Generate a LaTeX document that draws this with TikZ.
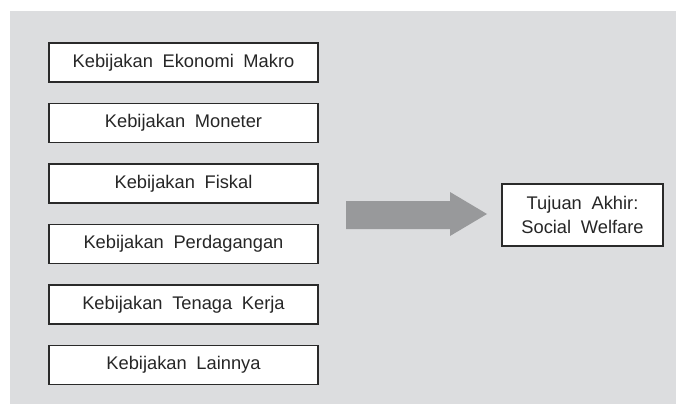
\documentclass[tikz,border=0pt]{standalone}
\usepackage{fontspec}
\setmainfont{Liberation Sans}[WordSpace=1.9]
\usetikzlibrary{positioning}
\definecolor{panelgray}{HTML}{DCDDDF}
\definecolor{arrowgray}{HTML}{98999B}
\definecolor{boxline}{HTML}{2A2A2A}

\begin{document}
\begin{tikzpicture}[x=1pt, y=-1pt,
  every node/.style={font=\fontsize{18.3}{23.5}\selectfont, text=black!85},
  policy/.style={draw=boxline, line width=1.6pt, fill=white, minimum width=269pt, minimum height=39pt, inner sep=0pt},
  goal/.style={draw=boxline, line width=1.6pt, fill=white, minimum width=161pt, minimum height=62pt, align=center, inner sep=0pt}]
  % Background
  \useasboundingbox (0,0) rectangle (676,404);
  \fill[white] (0,0) rectangle (676,404);
  \fill[panelgray] (10,11) rectangle (676,404);

  % Policy boxes
  \node[policy] (makro) at (183.5,62.5) {Kebijakan Ekonomi Makro};
  \node[policy] (moneter) at (183.5,123) {Kebijakan Moneter};
  \node[policy] (fiskal) at (183.5,183.5) {Kebijakan Fiskal};
  \node[policy] (dagang) at (183.5,244) {Kebijakan Perdagangan};
  \node[policy] (kerja) at (183.5,304.5) {Kebijakan Tenaga Kerja};
  \node[policy] (lain) at (183.5,365) {Kebijakan Lainnya};

  % Final goal
  \node[goal] (tujuan) at (582.5,215) {Tujuan Akhir:\\Social Welfare};

  % Block arrow
  \fill[arrowgray] (346,201) -- (450,201) -- (450,192) -- (487,214)
    -- (450,236) -- (450,229) -- (346,229) -- cycle;
\end{tikzpicture}
\end{document}
